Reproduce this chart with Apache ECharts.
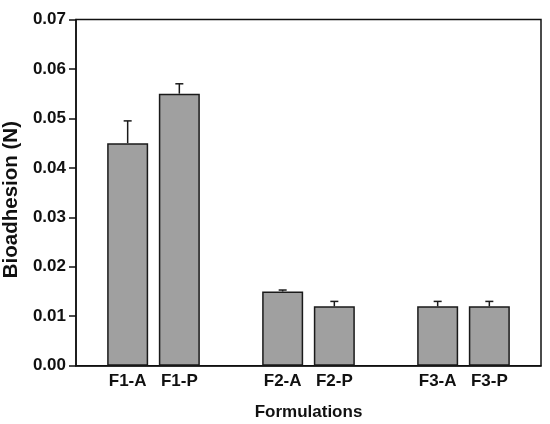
<!DOCTYPE html>
<html>
<head>
<meta charset="utf-8">
<script src="https://cdn.jsdelivr.net/npm/echarts@6/dist/echarts.min.js"></script>
<style>html,body{margin:0;padding:0;background:#fff;}#c{width:550px;height:424px;}</style>
</head>
<body>
<div id="c"></div>
<script>
var categories = ['', 'F1-A', 'F1-P', '', 'F2-A', 'F2-P', '', 'F3-A', 'F3-P', ''];
var values = [null, 0.045, 0.055, null, 0.015, 0.012, null, 0.012, 0.012, null];
var errors = [null, 0.0045, 0.002, null, 0.0003, 0.001, null, 0.001, 0.001, null];
var yTicks = [0, 0.01, 0.02, 0.03, 0.04, 0.05, 0.06, 0.07];

var errData = [];
for (var i = 0; i < categories.length; i++) {
  if (values[i] != null) errData.push([i, values[i], values[i] + errors[i]]);
}
var font = 'Liberation Sans, Arial, sans-serif';
var chart = echarts.init(document.getElementById('c'));
chart.setOption({
  animation: false,
  grid: { left: 76, right: 9, top: 19.5, bottom: 58.3, show: true, borderColor: '#111', borderWidth: 1.5,
    containLabel: false, outerBoundsMode: 'none' },
  xAxis: {
    type: 'category', data: categories, boundaryGap: false,
    name: 'Formulations', nameLocation: 'middle', nameGap: 38,
    nameTextStyle: { fontFamily: font, fontWeight: 'bold', fontSize: 17, color: '#111' },
    axisLine: { lineStyle: { color: '#111', width: 1.5 } },
    axisTick: { show: false },
    axisLabel: { interval: 0, margin: 7, fontFamily: font, fontWeight: 'bold', fontSize: 17, color: '#111' },
    splitLine: { show: false }
  },
  yAxis: {
    type: 'value', min: 0, max: 0.07, interval: 0.01,
    name: 'Bioadhesion (N)', nameLocation: 'middle', nameGap: 50, nameRotate: 90,
    nameTextStyle: { fontFamily: font, fontWeight: 'bold', fontSize: 20.5, color: '#111', padding: [0, 14, 0, 0] },
    axisLine: { show: true, lineStyle: { color: '#111', width: 1.5 } },
    axisTick: { show: true, length: 7, lineStyle: { color: '#111', width: 1.5 } },
    axisLabel: { margin: 10, fontFamily: font, fontWeight: 'bold', fontSize: 17, color: '#111',
      formatter: function (v) { return v.toFixed(2); } },
    splitLine: { show: false }
  },
  series: [
    {
      type: 'bar', data: values, barWidth: 41,
      itemStyle: { color: '#a0a0a0', borderColor: '#1a1a1a', borderWidth: 1.5 }
    },
    {
      type: 'custom', data: errData, z: 3,
      renderItem: function (params, api) {
        var top = api.coord([api.value(0), api.value(2)]);
        var base = api.coord([api.value(0), api.value(1)]);
        var hw = 4;
        return {
          type: 'group',
          children: [
            { type: 'line', shape: { x1: top[0], y1: base[1], x2: top[0], y2: top[1] }, style: { stroke: '#1a1a1a', lineWidth: 1.5 } },
            { type: 'line', shape: { x1: top[0] - hw, y1: top[1], x2: top[0] + hw, y2: top[1] }, style: { stroke: '#1a1a1a', lineWidth: 1.5 } }
          ]
        };
      }
    }
  ]
});
</script>
</body>
</html>
